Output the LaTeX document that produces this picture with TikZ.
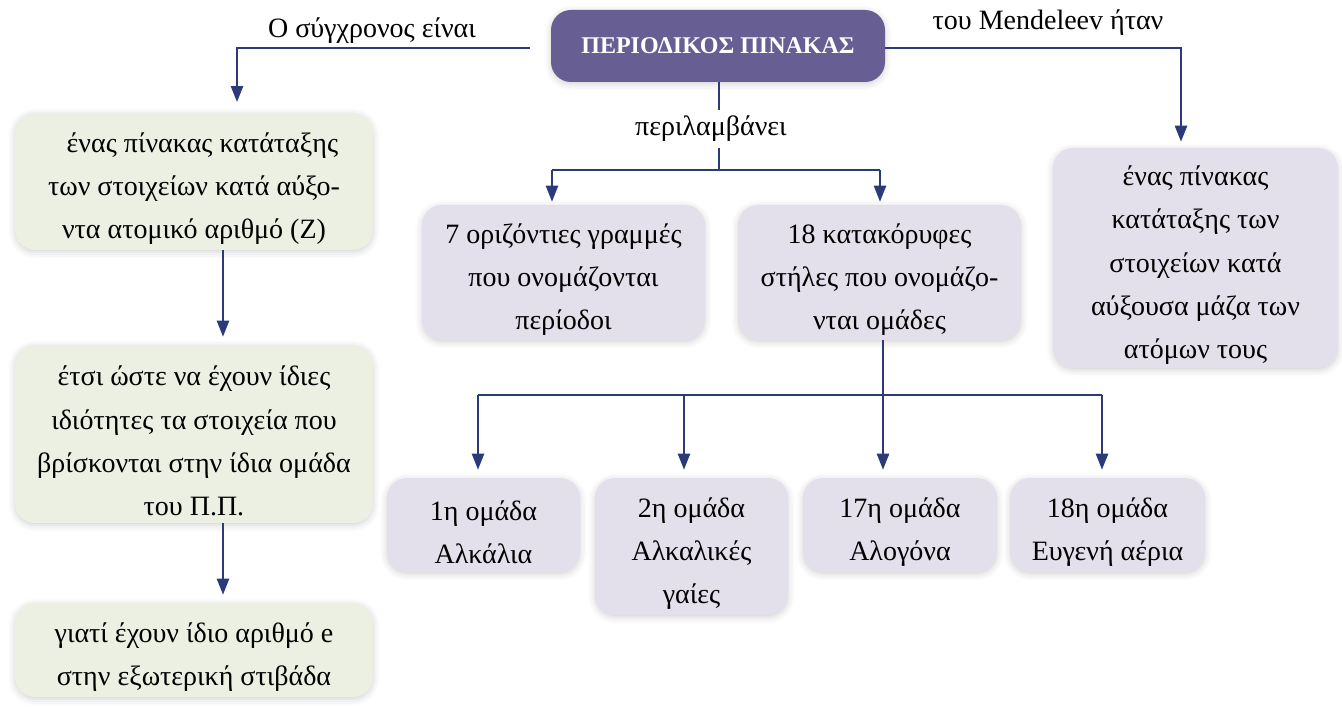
\documentclass[tikz,border=0pt]{standalone}
\usepackage{fontspec}
\setmainfont{Liberation Serif}
\usetikzlibrary{arrows.meta,shadows.blur,calc}
\definecolor{titlefill}{HTML}{675E93}
\definecolor{lilac}{HTML}{E3E0EC}
\definecolor{sage}{HTML}{EBF0E2}
\definecolor{navy}{HTML}{2B3A78}
\newcommand\tp{\rule{0pt}{25.5pt}}
\tikzset{
  box/.style={rounded corners=15pt, inner sep=0pt, align=center,
    font=\fontsize{21pt}{32.5pt}\selectfont,
    blur shadow={shadow xshift=0pt, shadow yshift=-1.5pt, shadow blur radius=5pt, shadow opacity=18}},
  pbox/.style={box, fill=lilac},
  gbox/.style={box, fill=sage},
  conn/.style={draw=navy, line width=1.8pt},
  arr/.style={conn, -{Triangle[length=12pt,width=9pt]}},
  lbl/.style={font=\fontsize{21pt}{24pt}\selectfont, inner sep=0pt},
}
\begin{document}
\begin{tikzpicture}[x=0.75pt,y=-0.75pt]
\useasboundingbox (0,0) rectangle (1342,709);
% title
\node[box, fill=titlefill, text=white, minimum width=250.5pt, minimum height=54pt,
      font=\fontsize{18pt}{20pt}\selectfont\bfseries] (title) at (718,46) {ΠΕΡΙΟΔΙΚΟΣ ΠΙΝΑΚΑΣ};
% left column
\node[gbox, minimum width=268.5pt, minimum height=102.75pt] (L1) at (194,181.5)
  {\tp\hspace*{0.6em}ένας πίνακας κατάταξης\\των στοιχείων κατά αύξο-\\ντα ατομικό αριθμό (Z)};
\node[gbox, minimum width=268.5pt, minimum height=133.5pt] (L2) at (194,434)
  {\tp έτσι ώστε να έχουν ίδιες\\ιδιότητες τα στοιχεία που\\βρίσκονται στην ίδια ομάδα\\του Π.Π.};
\node[gbox, minimum width=268.5pt, minimum height=70.5pt] (L3) at (194,650)
  {\tp γιατί έχουν ίδιο αριθμό e\\στην εξωτερική στιβάδα};
% middle
\node[pbox, minimum width=212.25pt, minimum height=101.25pt] (P1) at (563.5,272.5)
  {\tp 7 οριζόντιες γραμμές\\που ονομάζονται\\περίοδοι};
\node[pbox, minimum width=212.25pt, minimum height=101.25pt] (P2) at (879.5,272.5)
  {\tp 18 κατακόρυφες\\στήλες που ονομάζο-\\νται ομάδες};
% right
\node[pbox, minimum width=213.75pt, minimum height=165pt] (R) at (1195.5,258)
  {\tp ένας πίνακας\\κατάταξης των\\στοιχείων κατά\\αύξουσα μάζα των\\ατόμων τους};
% bottom
\node[pbox, minimum width=144.75pt, minimum height=70.5pt] (B1) at (483.5,525) {\tp 1η ομάδα\\Αλκάλια};
\node[pbox, minimum width=144.75pt, minimum height=102.75pt] (B2) at (691.5,546.5) {\tp 2η ομάδα\\Αλκαλικές\\γαίες};
\node[pbox, minimum width=145.5pt, minimum height=70.5pt] (B3) at (900,525) {\tp 17η ομάδα\\Αλογόνα};
\node[pbox, minimum width=146.25pt, minimum height=70.5pt] (B4) at (1107.5,525) {\tp 18η ομάδα\\Ευγενή αέρια};
% labels
\node[lbl] (lblL) at (372,31) {Ο σύγχρονος είναι};
\node[lbl] (lblR) at (1048,23) {του Mendeleev ήταν};
\node[lbl, minimum height=28.5pt] (lblP) at (711,129) {περιλαμβάνει};
% coordinates
\coordinate (cL) at (223,0);
\coordinate (cA) at (237,48);
\coordinate (cS) at (530,48);
\coordinate (cR) at (1181,48);
\coordinate (hub) at (719,170);
\coordinate (c1) at (552,170);
\coordinate (c2) at (880,170);
\coordinate (hub2) at (883,395);
\coordinate (d1) at (478,395);
\coordinate (d2) at (684,395);
\coordinate (d4) at (1102,395);
% connectors
\draw[arr, shorten >=8pt] (cS) -| (L1.north -| cA);
\draw[arr, shorten >=4.5pt] (title.east |- cR) -| (R.north -| cR);
\draw[conn] (title.south -| hub) -- (lblP.north -| hub);
\draw[conn] (lblP.south -| hub) -- (hub);
\draw[conn] (c1) -- (c2);
\draw[arr, shorten >=2.25pt] (c1) -- (P1.north -| c1);
\draw[arr, shorten >=2.25pt] (c2) -- (P2.north -| c2);
\draw[arr, shorten >=6pt] (L1.south -| cL) -- (L2.north -| cL);
\draw[arr, shorten >=6pt] (L2.south -| cL) -- (L3.north -| cL);
\draw[arr, shorten >=6pt] (P2.south -| hub2) -- (B3.north -| hub2);
\draw[conn] (d1) -- (d4);
\draw[arr, shorten >=6pt] (d1) -- (B1.north -| d1);
\draw[arr, shorten >=6pt] (d2) -- (B2.north -| d2);
\draw[arr, shorten >=6pt] (d4) -- (B4.north -| d4);
\end{tikzpicture}
\end{document}
